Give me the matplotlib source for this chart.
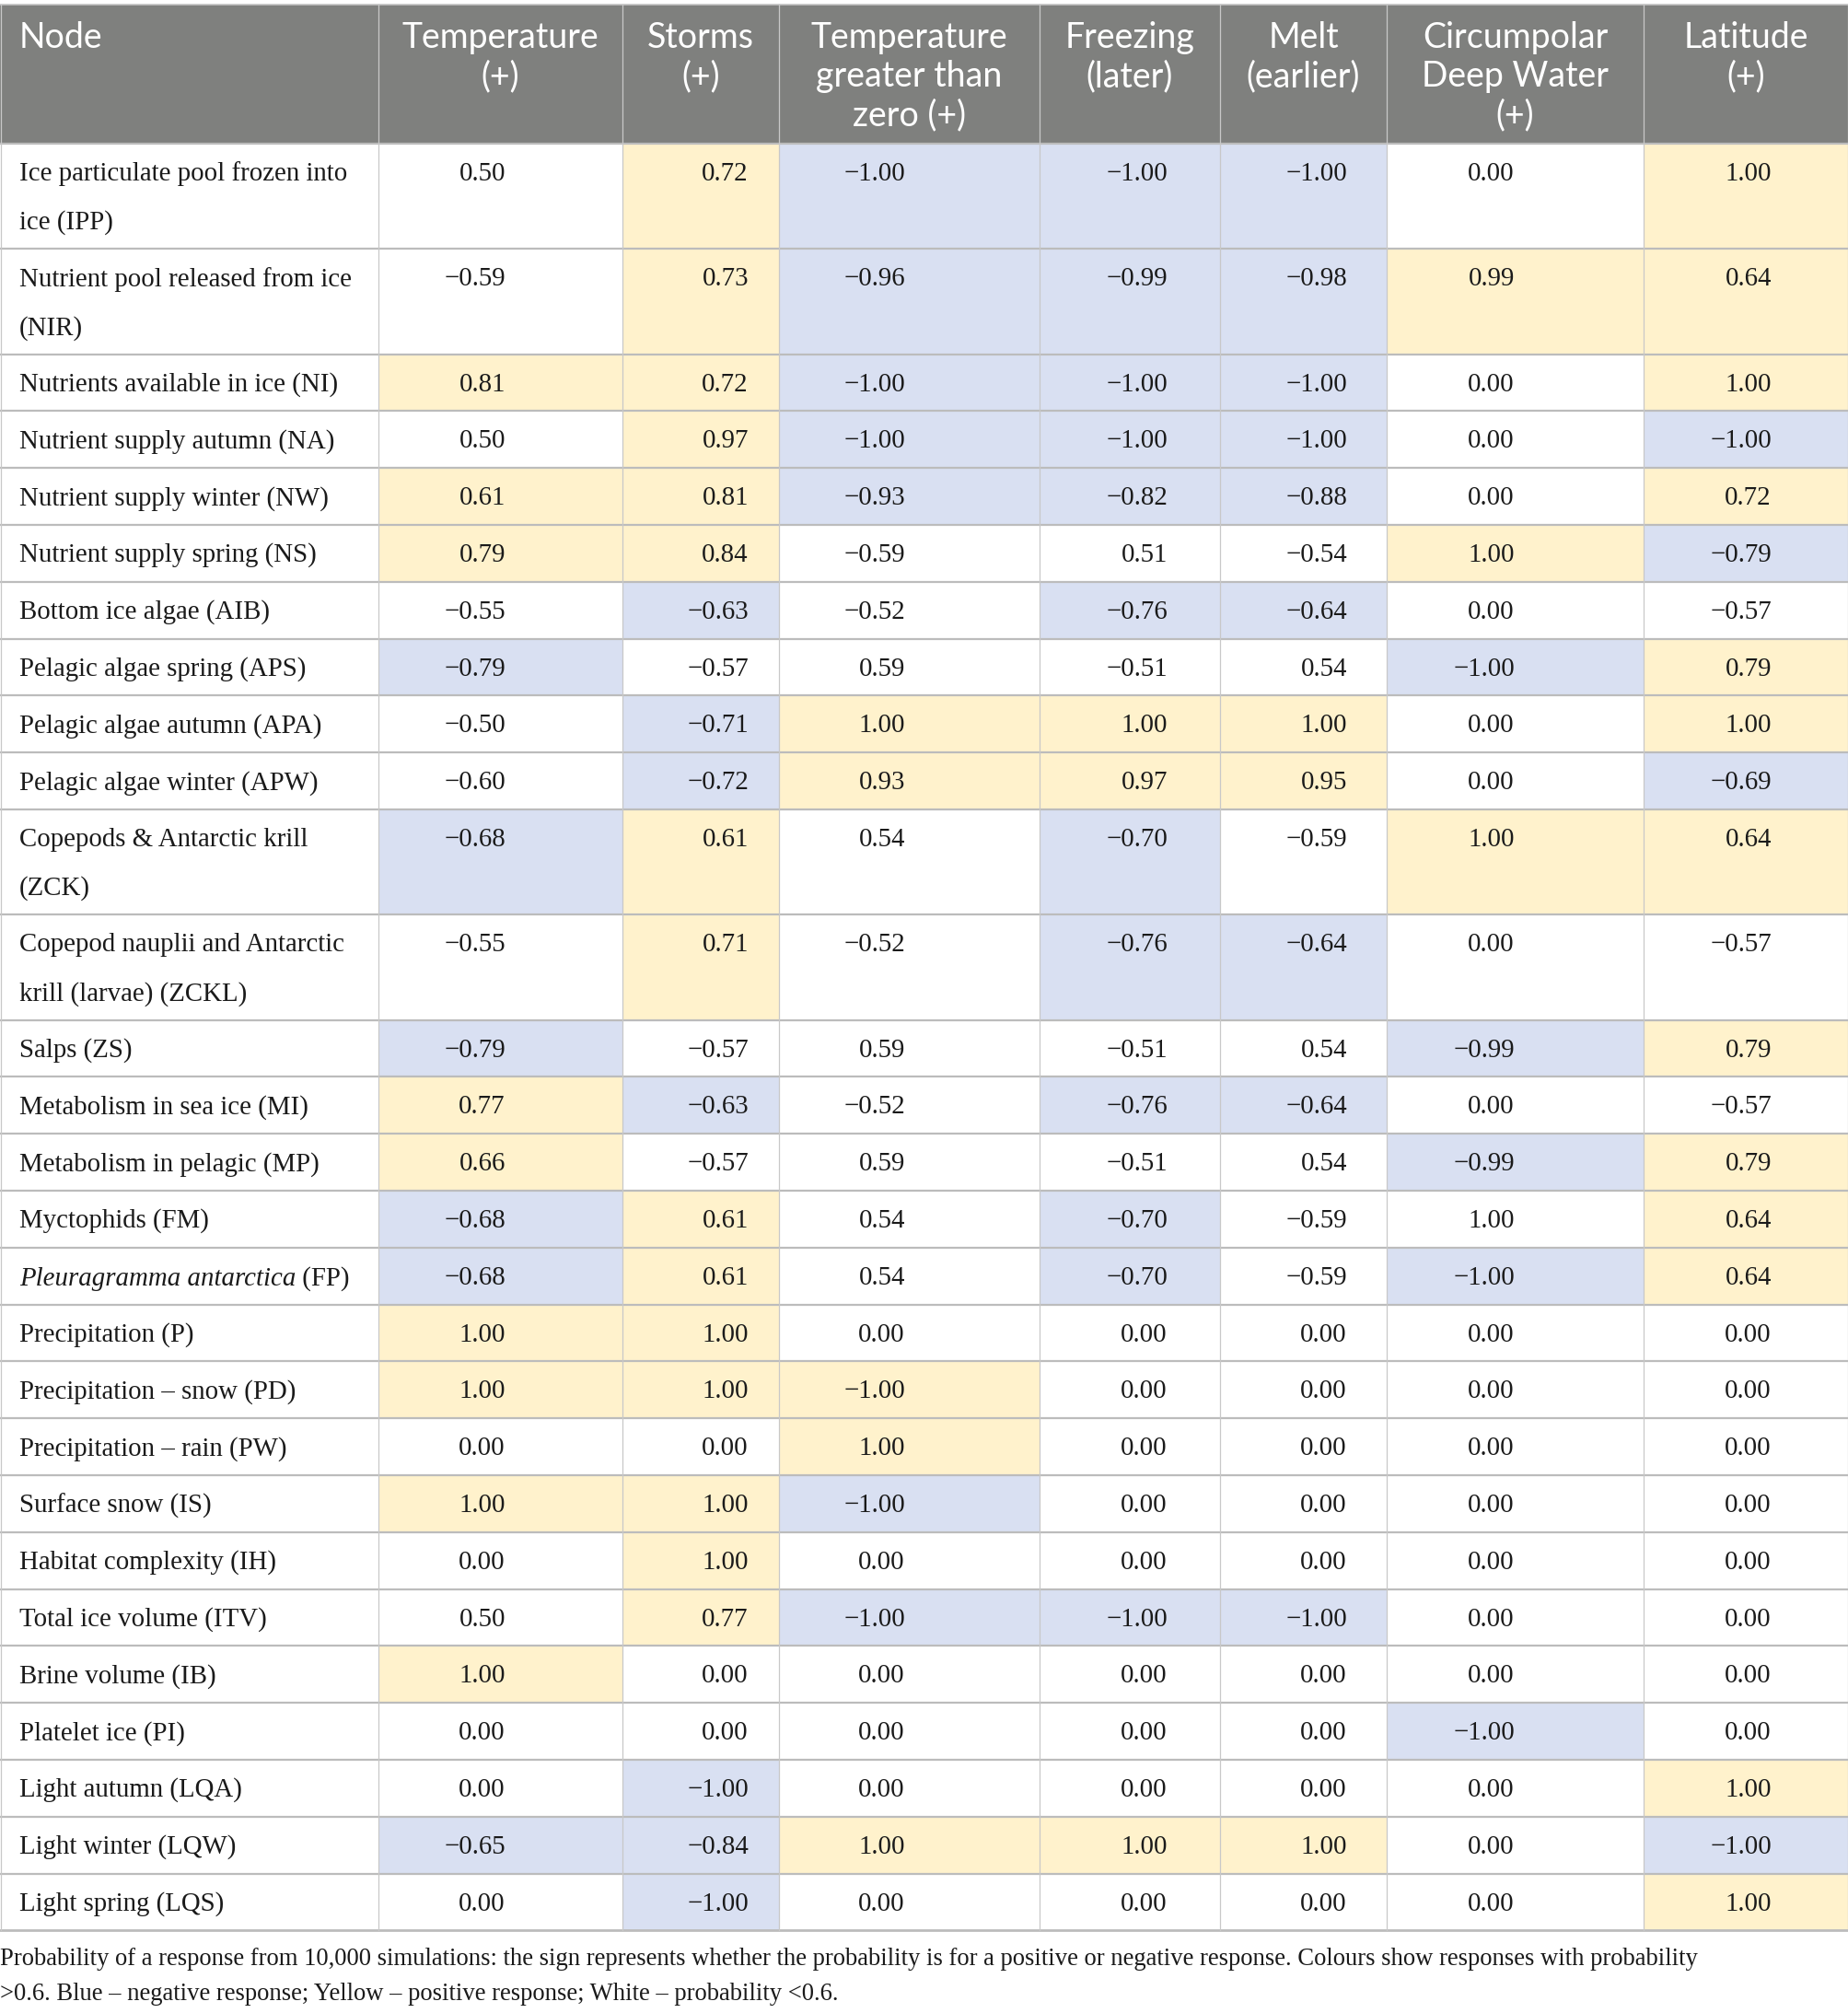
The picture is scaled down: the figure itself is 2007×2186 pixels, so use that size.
import matplotlib
matplotlib.use("Agg")
import matplotlib.pyplot as plt
from matplotlib.patches import Rectangle

# ---------------- data ----------------
headers = ["Node", "Temperature\n(+)", "Storms\n(+)", "Temperature\ngreater than\nzero (+)",
           "Freezing\n(later)", "Melt\n(earlier)", "Circumpolar\nDeep Water\n(+)", "Latitude\n(+)"]

nodes = [
    "Ice particulate pool frozen into\nice (IPP)",
    "Nutrient pool released from ice\n(NIR)",
    "Nutrients available in ice (NI)",
    "Nutrient supply autumn (NA)",
    "Nutrient supply winter (NW)",
    "Nutrient supply spring (NS)",
    "Bottom ice algae (AIB)",
    "Pelagic algae spring (APS)",
    "Pelagic algae autumn (APA)",
    "Pelagic algae winter (APW)",
    "Copepods & Antarctic krill\n(ZCK)",
    "Copepod nauplii and Antarctic\nkrill (larvae) (ZCKL)",
    "Salps (ZS)",
    "Metabolism in sea ice (MI)",
    "Metabolism in pelagic (MP)",
    "Myctophids (FM)",
    "*Pleuragramma antarctica* (FP)",
    "Precipitation (P)",
    "Precipitation \u2013 snow (PD)",
    "Precipitation \u2013 rain (PW)",
    "Surface snow (IS)",
    "Habitat complexity (IH)",
    "Total ice volume (ITV)",
    "Brine volume (IB)",
    "Platelet ice (PI)",
    "Light autumn (LQA)",
    "Light winter (LQW)",
    "Light spring (LQS)",
]

temperature = [0.50, -0.59, 0.81, 0.50, 0.61, 0.79, -0.55, -0.79, -0.50, -0.60, -0.68, -0.55, -0.79, 0.77,
               0.66, -0.68, -0.68, 1.00, 1.00, 0.00, 1.00, 0.00, 0.50, 1.00, 0.00, 0.00, -0.65, 0.00]
storms = [0.72, 0.73, 0.72, 0.97, 0.81, 0.84, -0.63, -0.57, -0.71, -0.72, 0.61, 0.71, -0.57, -0.63,
          -0.57, 0.61, 0.61, 1.00, 1.00, 0.00, 1.00, 1.00, 0.77, 0.00, 0.00, -1.00, -0.84, -1.00]
temp_gt_zero = [-1.00, -0.96, -1.00, -1.00, -0.93, -0.59, -0.52, 0.59, 1.00, 0.93, 0.54, -0.52, 0.59, -0.52,
                0.59, 0.54, 0.54, 0.00, -1.00, 1.00, -1.00, 0.00, -1.00, 0.00, 0.00, 0.00, 1.00, 0.00]
freezing = [-1.00, -0.99, -1.00, -1.00, -0.82, 0.51, -0.76, -0.51, 1.00, 0.97, -0.70, -0.76, -0.51, -0.76,
            -0.51, -0.70, -0.70, 0.00, 0.00, 0.00, 0.00, 0.00, -1.00, 0.00, 0.00, 0.00, 1.00, 0.00]
melt = [-1.00, -0.98, -1.00, -1.00, -0.88, -0.54, -0.64, 0.54, 1.00, 0.95, -0.59, -0.64, 0.54, -0.64,
        0.54, -0.59, -0.59, 0.00, 0.00, 0.00, 0.00, 0.00, -1.00, 0.00, 0.00, 0.00, 1.00, 0.00]
cdw = [0.00, 0.99, 0.00, 0.00, 0.00, 1.00, 0.00, -1.00, 0.00, 0.00, 1.00, 0.00, -0.99, 0.00,
       -0.99, 1.00, -1.00, 0.00, 0.00, 0.00, 0.00, 0.00, 0.00, 0.00, -1.00, 0.00, 0.00, 0.00]
latitude = [1.00, 0.64, 1.00, -1.00, 0.72, -0.79, -0.57, 0.79, 1.00, -0.69, 0.64, -0.57, 0.79, -0.57,
            0.79, 0.64, 0.64, 0.00, 0.00, 0.00, 0.00, 0.00, 0.00, 0.00, 0.00, 1.00, -1.00, 1.00]

# cell shading class per row: B = negative (blue), Y = positive (yellow), W = white
shading = ["WYBBBWY", "WYBBBYY", "YYBBBWY", "WYBBBWB", "YYBBBWY", "YYWWWYB", "WBWBBWW",
           "BWWWWBY", "WBYYYWY", "WBYYYWB", "BYWBWYY", "WYWBBWW", "BWWWWBY", "YBWBBWW",
           "YWWWWBY", "BYWBWWY", "BYWBWBY", "YYWWWWW", "YYYWWWW", "WWYWWWW", "YYBWWWW",
           "WYWWWWW", "WYBBBWW", "YWWWWWW", "WWWWWBW", "WBWWWWY", "BBYYYWB", "WBWWWWY"]

caption = ("Probability of a response from 10,000 simulations: the sign represents whether the probability "
           "is for a positive or negative response. Colours show responses with probability\n"
           ">0.6. Blue \u2013 negative response; Yellow \u2013 positive response; White \u2013 probability <0.6.")

# ---------------- style / layout ----------------
W, H = 2008, 2186
col_edges = [0, 411, 676, 846, 1129, 1325, 1506, 1785, 2008]
num_right = [549, 813, 983, 1268, 1463, 1645, 1924]
header_top, header_bot = 5, 156
h1, h2 = 61.8, 114.3
fill = {"B": "#d9e0f2", "Y": "#fff2cc", "W": "#ffffff"}
header_bg = "#7f807e"
serif = "Liberation Serif"
sans = "Lato"
body_fs = 20.8
head_fs = 27
cap_fs = 19.2
ink = "#1a1a1a"

columns_vals = [temperature, storms, temp_gt_zero, freezing, melt, cdw, latitude]

fig = plt.figure(figsize=(W / 100, H / 100), dpi=100)
ax = fig.add_axes([0, 0, 1, 1])
ax.set_xlim(0, W)
ax.set_ylim(H, 0)
ax.axis("off")

# header
ax.add_patch(Rectangle((0, header_top), W, header_bot - header_top, facecolor=header_bg, edgecolor="none"))
for j, h in enumerate(headers):
    for k, ln in enumerate(h.split("\n")):
        y = 41 + 42 * k
        if j == 0:
            ax.text(21, y, ln, ha="left", va="center", color="white", fontsize=head_fs, family=sans)
        else:
            cx = (col_edges[j] + col_edges[j + 1]) / 2
            ax.text(cx, y, ln, ha="center", va="center", color="white", fontsize=head_fs, family=sans)


def fmt(v):
    s = f"{abs(v):.2f}"
    return ("\u2212" + s) if v < 0 else s


y = header_bot
row_tops = []
for i, name in enumerate(nodes):
    nlines = name.count("\n") + 1
    rh = h1 if nlines == 1 else h2
    row_tops.append(y)
    for c in range(7):
        ax.add_patch(Rectangle((col_edges[c + 1], y), col_edges[c + 2] - col_edges[c + 1], rh,
                               facecolor=fill[shading[i][c]], edgecolor="none"))
    for k, ln in enumerate(name.split("\n")):
        ty = y + 33 + 53 * k
        if ln.startswith("*"):
            ital, rest = ln[1:].split("*", 1)
            t1 = ax.text(21, ty + 8, ital, ha="left", va="baseline", fontsize=body_fs, family=serif,
                         style="italic", color=ink)
            ax.annotate(rest, xy=(1, ty + 8), xycoords=(t1, "data"), ha="left", va="baseline",
                        fontsize=body_fs, family=serif, color=ink)
        else:
            ax.text(21, ty, ln, ha="left", va="center", fontsize=body_fs, family=serif, color=ink)
    for c in range(7):
        ax.text(num_right[c], y + 33, fmt(columns_vals[c][i]), ha="right", va="center",
                fontsize=body_fs, family=serif, color=ink)
    y += rh
table_bot = y

# grid lines
for yt in row_tops[1:]:
    ax.plot([0, W], [yt, yt], color="#bcbcbc", lw=1.6, solid_capstyle="butt")
ax.plot([0, W], [header_bot, header_bot], color="#bcbcbc", lw=1.6)
ax.plot([0, W], [table_bot, table_bot], color="#bcbcbc", lw=2.0)
ax.plot([0, W], [header_top, header_top], color="#c4c4c4", lw=1.2)
for xe in col_edges[1:-1]:
    ax.plot([xe, xe], [header_top, table_bot], color="#c8c8c8", lw=0.9)
ax.plot([0.5, 0.5], [header_top, table_bot], color="#c8c8c8", lw=0.9)
ax.plot([W - 0.5, W - 0.5], [header_top, table_bot], color="#c8c8c8", lw=0.9)

# caption
for k, ln in enumerate(caption.split("\n")):
    ax.text(0, 2127 + 38 * k, ln, ha="left", va="center", fontsize=cap_fs, family=serif, color=ink)

fig.savefig("out.png", dpi=100)
